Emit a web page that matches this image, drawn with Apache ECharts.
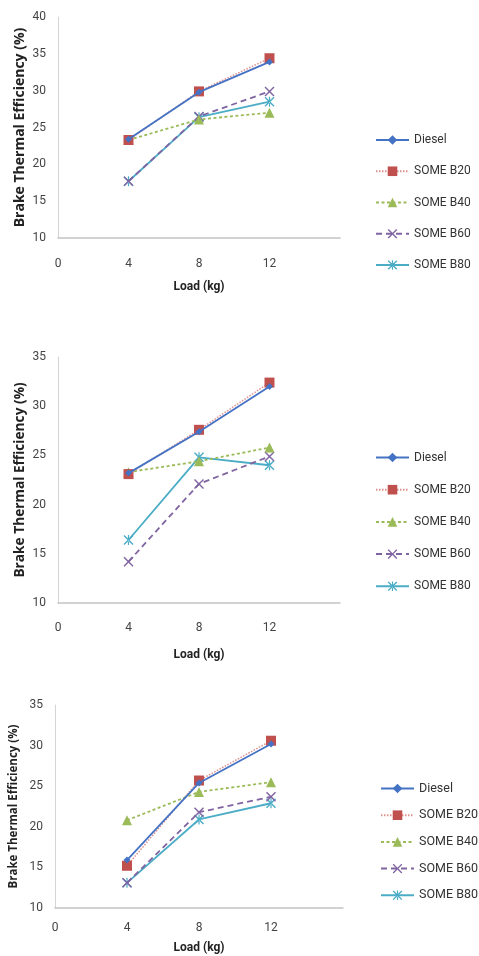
<!DOCTYPE html>
<html lang="en">
<head>
    <meta charset="UTF-8">
    <title>Brake thermal efficiency vs load</title>
    <script src="https://cdn.jsdelivr.net/npm/echarts@6/dist/echarts.min.js"></script>
    <style>
        html, body { margin: 0; padding: 0; background: #fff; }
        #main { width: 479px; height: 956px; }
    </style>
</head>
<body>
<div id="main"></div>
<script>
    // load values (kg) shared by all three plots
    var loads = [4, 8, 12];
    var xTicks = [0, 4, 8, 12, 16];
    var seriesNames = ['Diesel', 'SOME B20', 'SOME B40', 'SOME B60', 'SOME B80'];

    // plot 1
    var diesel1 = [23.4, 29.8, 33.9];
    var b20_1 = [23.3, 29.9, 34.4];
    var b40_1 = [23.3, 26.1, 27.0];
    var b60_1 = [17.7, 26.5, 29.9];
    var b80_1 = [17.7, 26.4, 28.5];

    // plot 2
    var diesel2 = [23.2, 27.4, 32.0];
    var b20_2 = [23.1, 27.6, 32.4];
    var b40_2 = [23.3, 24.4, 25.8];
    var b60_2 = [14.2, 22.1, 24.9];
    var b80_2 = [16.4, 24.8, 24.0];

    // plot 3
    var diesel3 = [15.9, 25.4, 30.2];
    var b20_3 = [15.2, 25.7, 30.6];
    var b40_3 = [20.8, 24.3, 25.5];
    var b60_3 = [13.1, 21.8, 23.7];
    var b80_3 = [13.1, 20.9, 22.9];

    var yMax = [40, 35, 35];

    var colors = ['#4472c4', '#c0504d', '#9bbb59', '#8064a2', '#4bacc6'];
    var lineColors = ['#4472c4', '#e08f8c', '#9bbb59', '#8064a2', '#4bacc6'];
    var dashes = ['solid', [1.5, 1.5], [3, 2.5], [6, 4], 'solid'];
    var xPath = 'M0,1L1,0L5,4L9,0L10,1L6,5L10,9L9,10L5,6L1,10L0,9L4,5Z';
    var symbols = [
        'diamond',
        'rect',
        'triangle',
        'path://' + xPath,
        'path://' + xPath + 'M4.4,0L5.6,0L5.6,4.2L5,4.8L4.4,4.2ZM4.4,10L5.6,10L5.6,5.8L5,5.2L4.4,5.8Z'
    ];
    var symbolSizes = [7, 10, 10, 10, 10];

    var plots = [
        [diesel1, b20_1, b40_1, b60_1, b80_1],
        [diesel2, b20_2, b40_2, b60_2, b80_2],
        [diesel3, b20_3, b40_3, b60_3, b80_3]
    ];

    var font = 'Roboto';

    // layout of each plot (pixels)
    var grids = [
        { left: 58, top: 17, width: 282, height: 221 },
        { left: 58, top: 357, width: 282, height: 246 },
        { left: 53, top: 705, width: 290, height: 203 }
    ];
    var yNameGap = [31, 31, 35];
    var yNameSize = [14, 13.7, 11.5];
    var xNameGap = [43, 46, 34];
    var xLabelMargin = [20, 19, 14];
    var legendPos = [
        { left: 375, top: 134, gap: 19.25, w: 33 },
        { left: 375, top: 451.5, gap: 20.2, w: 33 },
        { left: 380, top: 782, gap: 13.7, w: 33 }
    ];
    var legendSize = [12, 12, 12.5];

    var option = {
        animation: false,
        backgroundColor: '#fff',
        grid: [],
        xAxis: [],
        yAxis: [],
        legend: [],
        series: []
    };

    for (var g = 0; g < 3; g++) {
        option.grid.push({
            left: grids[g].left, top: grids[g].top,
            width: grids[g].width, height: grids[g].height,
            containLabel: false
        });
        option.xAxis.push({
            type: 'value',
            gridIndex: g,
            min: xTicks[0],
            max: xTicks[xTicks.length - 1],
            interval: 4,
            name: 'Load (kg)',
            nameLocation: 'middle',
            nameGap: xNameGap[g],
            nameTextStyle: { fontFamily: font, fontWeight: 'bold', fontSize: 12, color: '#222' },
            axisLine: { lineStyle: { color: '#c4c4c4', width: 1.5 } },
            axisTick: { show: false },
            splitLine: { show: false },
            axisLabel: {
                margin: xLabelMargin[g], fontFamily: font, fontSize: 12, color: '#444',
                showMaxLabel: false
            }
        });
        option.yAxis.push({
            type: 'value',
            gridIndex: g,
            min: 10,
            max: yMax[g],
            interval: 5,
            name: 'Brake Thermal Efficiency (%)',
            nameLocation: 'middle',
            nameGap: yNameGap[g],
            nameMoveOverlap: false,
            nameTextStyle: { fontFamily: 'Open Sans', fontWeight: 'bold', fontSize: yNameSize[g], color: '#222' },
            axisLine: { show: true, lineStyle: { color: '#d4d4d4', width: 1 } },
            axisTick: { show: false },
            splitLine: { show: false },
            axisLabel: { margin: 12, fontFamily: font, fontSize: 12, color: '#444' }
        });

        var legendData = [];
        for (var s = 0; s < 5; s++) {
            var id = 'p' + g + '_' + s;
            legendData.push(id);
            var vals = plots[g][s];
            option.series.push({
                id: id,
                name: id,
                type: 'line',
                xAxisIndex: g,
                yAxisIndex: g,
                data: loads.map(function (x, i) { return [x, vals[i]]; }),
                symbol: symbols[s],
                symbolSize: symbolSizes[s],
                showAllSymbol: true,
                itemStyle: { color: colors[s] },
                lineStyle: { color: lineColors[s], width: s === 1 ? 1.5 : 1.8, type: dashes[s] },
                z: 10 - s
            });
        }
        option.legend.push({
            orient: 'vertical',
            left: legendPos[g].left,
            top: legendPos[g].top,
            padding: 0,
            itemWidth: legendPos[g].w,
            itemHeight: 12,
            itemGap: legendPos[g].gap,
            data: legendData,
            formatter: function (name) {
                return seriesNames[+name.split('_')[1]];
            },
            textStyle: { fontFamily: font, fontSize: legendSize[g], color: '#333' },
            selectedMode: false
        });
    }

    var chart = echarts.init(document.getElementById('main'));
    chart.setOption(option);
</script>
</body>
</html>
